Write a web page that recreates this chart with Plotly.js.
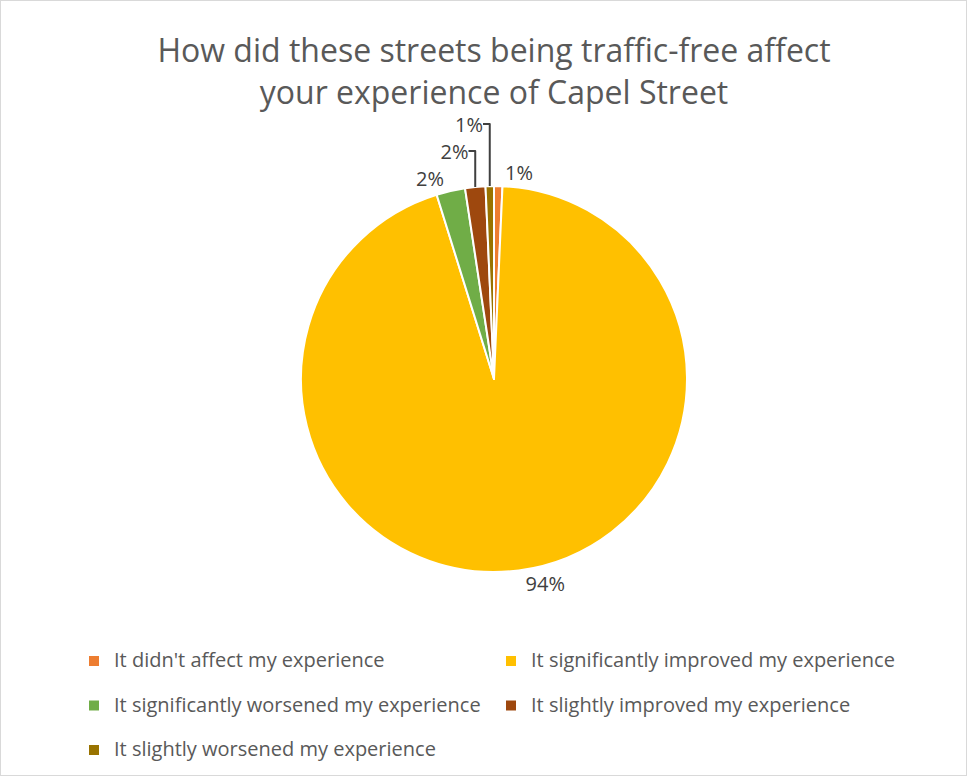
<!DOCTYPE html>
<html><head><meta charset="utf-8">
<script src="https://cdn.plot.ly/plotly-3.0.1.min.js"></script>
<style>
html,body{margin:0;padding:0;background:#fff;}
#chart{width:965px;height:774px;border:1px solid #d9d9d9;}
</style></head>
<body><div id="chart"></div>
<script>
const categories = [
  "It didn't affect my experience",
  "It significantly improved my experience",
  "It significantly worsened my experience",
  "It slightly improved my experience",
  "It slightly worsened my experience"
];
const shares = [0.7, 94.5, 2.4, 1.7, 0.7];
const sliceColors = ["#ED7D31", "#FFC000", "#70AD47", "#9E480E", "#997300"];

const W = 965, H = 774;
const cx = 493, cy = 378, R = 193;

const data = [{
  type: 'pie',
  labels: categories.map(c => '<span style="font-size:20px">' + c + '</span><br> '),
  customdata: categories,
  values: shares,
  sort: false,
  direction: 'clockwise',
  rotation: 0,
  marker: {colors: sliceColors, line: {color: '#ffffff', width: 2}},
  textposition: 'outside',
  texttemplate: '%{percent:.0%}',
  textfont: {family: 'Open Sans, sans-serif', size: 20, color: '#404040'},
  hovertemplate: '%{customdata}: %{percent:.0%}<extra></extra>',
  domain: {x: [(cx - R) / W, (cx + R) / W], y: [1 - (cy + R) / H, 1 - (cy - R) / H]},
  automargin: false
}];

const layout = {
  width: W, height: H,
  margin: {l: 0, r: 0, t: 0, b: 0, autoexpand: false},
  paper_bgcolor: '#ffffff',
  plot_bgcolor: '#ffffff',
  title: {
    text: 'How did these streets being traffic-free affect<br>your experience of Capel Street',
    font: {family: 'Open Sans, sans-serif', size: 32, color: '#595959'},
    x: cx / W, xanchor: 'center', xref: 'container',
    y: 1 - 61 / H, yanchor: 'top', yref: 'container'
  },
  showlegend: true,
  legend: {
    orientation: 'h',
    x: 73 / W, xanchor: 'left',
    y: 1 - 643 / H, yanchor: 'top',
    entrywidth: 372, entrywidthmode: 'pixels',
    valign: 'top',
    font: {family: 'Open Sans, sans-serif', size: 16, color: '#595959'},
    traceorder: 'normal'
  }
};

Plotly.newPlot('chart', data, layout, {displayModeBar: false, responsive: false});
</script>
</body></html>
